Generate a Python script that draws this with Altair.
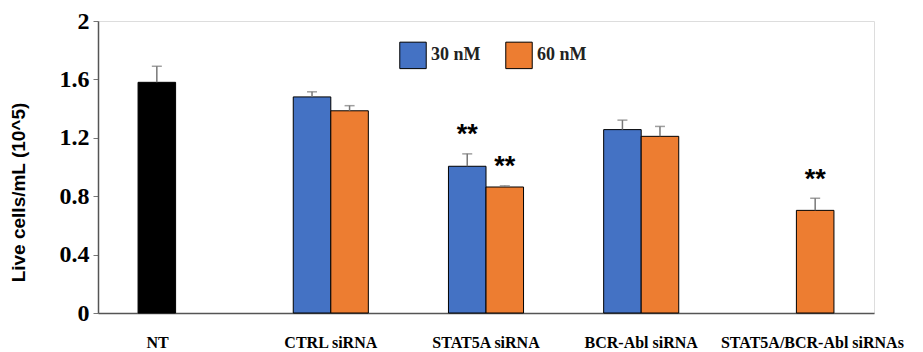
import altair as alt
import pandas as pd

categories = ["NT", "CTRL siRNA", "STAT5A siRNA", "BCR-Abl siRNA", "STAT5A/BCR-Abl siRNAs"]
series = ["30 nM", "60 nM"]
offset_slots = ["_l", "30 nM", "60 nM", "_r"]

bar_group = ["NT", "CTRL siRNA", "CTRL siRNA", "STAT5A siRNA", "STAT5A siRNA",
             "BCR-Abl siRNA", "BCR-Abl siRNA", "STAT5A/BCR-Abl siRNAs"]
bar_series = ["30 nM", "30 nM", "60 nM", "30 nM", "60 nM", "30 nM", "60 nM", "60 nM"]
bar_color = ["NT", "30 nM", "60 nM", "30 nM", "60 nM", "30 nM", "60 nM", "60 nM"]
bar_value = [1.58, 1.48, 1.385, 1.005, 0.863, 1.256, 1.21, 0.703]
bar_err = [0.11, 0.035, 0.035, 0.085, 0.008, 0.065, 0.068, 0.083]

star_group = ["STAT5A siRNA", "STAT5A siRNA", "STAT5A/BCR-Abl siRNAs"]
star_series = ["30 nM", "60 nM", "60 nM"]
star_y = [1.24, 1.02, 0.93]

df = pd.DataFrame({
    "group": bar_group, "series": bar_series, "ckey": bar_color,
    "value": bar_value, "err": bar_err,
})
df["top"] = df["value"] + df["err"]
stars = pd.DataFrame({"group": star_group, "series": star_series, "y": star_y, "t": ["**"] * 3})

serif = "Liberation Serif"
sans = "Liberation Sans"

x_enc = alt.X("group:N", sort=categories, scale=alt.Scale(domain=categories, paddingInner=0, paddingOuter=0),
              axis=alt.Axis(title=None, ticks=False, labelAngle=0, labelFont=serif, labelFontSize=16,
                            labelFontWeight="bold", labelColor="black", labelPadding=21, labelLimit=400,
                            labelOffset={"condition": [
                                {"test": "datum.value == 'NT'", "value": -18},
                                {"test": "datum.value == 'STAT5A/BCR-Abl siRNAs'", "value": 16}],
                                "value": 0},
                            domainColor="#555", domainWidth=1.5))
xo_enc = alt.XOffset("series:N", scale=alt.Scale(domain=offset_slots, paddingInner=0, paddingOuter=0.067))

y_scale = alt.Scale(domain=[0, 2], nice=False)

bars = alt.Chart(df).mark_bar(stroke="black", strokeWidth=1).encode(
    x=x_enc,
    xOffset=xo_enc,
    y=alt.Y("value:Q", scale=y_scale,
            axis=alt.Axis(title="Live cells/mL (10^5)", values=[0, 0.4, 0.8, 1.2, 1.6, 2],
                          labelExpr="datum.value == 0 ? '0' : (datum.value == 2 ? '2' : format(datum.value, '.1f'))",
                          grid=False, tickSize=5, tickColor="#777", domainColor="#555", domainWidth=1.5,
                          labelFont=serif, labelFontSize=24, labelFontWeight="bold", labelColor="black",
                          labelPadding=4,
                          titleFont=sans, titleFontSize=19, titleFontWeight="bold", titleColor="black",
                          titleX=-80, titleY=171, titleAlign="center", titleBaseline="middle")),
    color=alt.Color("ckey:N", scale=alt.Scale(domain=["30 nM", "60 nM", "NT"],
                                              range=["#4472C4", "#ED7D31", "#000000"]),
                    legend=alt.Legend(title=None, values=["30 nM", "60 nM"], orient="none",
                                      direction="horizontal", legendX=301, legendY=20,
                                      symbolType="square", symbolSize=700, symbolStrokeColor="black",
                                      symbolStrokeWidth=1, symbolOpacity=1,
                                      labelFont=serif, labelFontSize=18, labelFontWeight="bold",
                                      labelColor="#222", labelOffset=4, columnPadding=22)),
)

err_rule = alt.Chart(df).mark_rule(color="#777", strokeWidth=1.5).encode(
    x=alt.X("group:N", sort=categories), xOffset=xo_enc,
    y=alt.Y("value:Q", scale=y_scale), y2="top:Q")
err_cap = alt.Chart(df).mark_tick(color="#777", thickness=1.5, size=10, orient="horizontal").encode(
    x=alt.X("group:N", sort=categories), xOffset=xo_enc,
    y=alt.Y("top:Q", scale=y_scale))

star_text = alt.Chart(stars).mark_text(font=sans, fontSize=27, fontWeight="bold", color="black",
                                       baseline="middle", dy=3).encode(
    x=alt.X("group:N", sort=categories), xOffset=xo_enc,
    y=alt.Y("y:Q", scale=y_scale), text="t:N")

chart = alt.layer(bars, err_rule, err_cap, star_text).properties(
    width=776, height=292,
    padding={"left": 1, "top": 1, "right": 5, "bottom": 5},
).configure_view(stroke="#555", strokeWidth=1.5).configure(background="white")

chart.save("out.html", embed_options={"renderer": "svg", "actions": False})
